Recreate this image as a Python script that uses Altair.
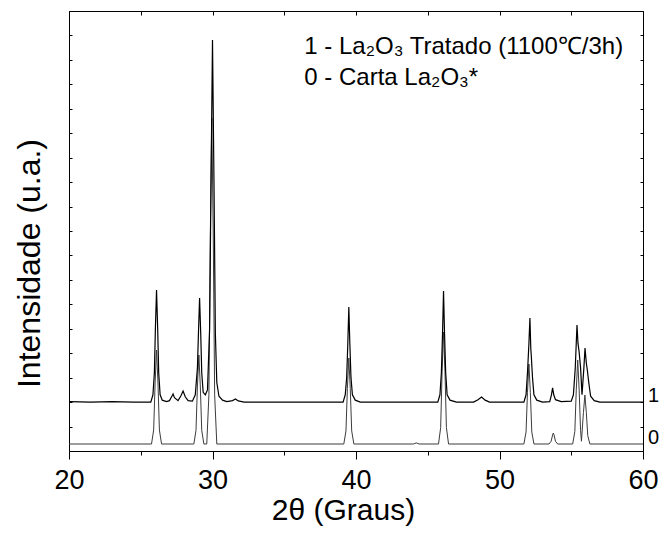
import altair as alt
import pandas as pd

# ---- data (2theta in degrees, intensity in a.u.) ----
# Curve 0 - Carta La2O3* (reference pattern)
carta_2theta = [20.0, 25.75, 25.9, 26.0, 26.1, 26.2, 26.3, 26.45,
                28.7, 28.85, 28.95, 29.05, 29.15, 29.25, 29.4,
                29.6, 29.75, 29.85, 29.95, 30.05, 30.15, 30.3,
                39.15, 39.3, 39.4, 39.5, 39.6, 39.7, 39.85,
                44.0, 44.2, 44.4,
                45.75, 45.9, 46.0, 46.1, 46.2, 46.3, 46.45,
                51.7, 51.85, 51.95, 52.05, 52.15, 52.25, 52.4,
                53.45, 53.6, 53.7, 53.75, 53.8, 53.9, 54.05,
                55.1, 55.25, 55.35, 55.45, 55.55, 55.65, 55.71,
                55.85, 55.95, 56.05, 56.15, 56.3, 60.0]
carta_int = [143, 143, 430, 1390, 2065, 1390, 430, 143,
             143, 420, 1330, 1963, 1330, 420, 143,
             143, 1150, 4480, 6810, 4480, 1150, 143,
             143, 410, 1280, 1902, 1280, 410, 143,
             143, 165, 143,
             143, 480, 1630, 2434, 1630, 480, 143,
             143, 390, 1200, 1779, 1200, 390, 143,
             143, 200, 330, 368, 330, 200, 143,
             143, 400, 1250, 1861, 1250, 420, 200,
             790, 1145, 790, 313, 143, 143]

# Curve 1 - La2O3 Tratado (1100 C/3h)
trat_2theta = [20.0, 21.5, 23.0, 24.5, 25.7, 25.85, 25.95, 26.02, 26.1, 26.18, 26.25, 26.35,
               26.5, 26.8, 27.0, 27.15, 27.25, 27.35, 27.6, 27.8, 27.95, 28.1, 28.3,
               28.6, 28.8, 28.95, 29.02, 29.1, 29.18, 29.25, 29.35, 29.5,
               29.65, 29.8, 29.9, 30.0, 30.1, 30.2, 30.3, 30.45, 30.7, 31.0,
               31.4, 31.6, 31.8, 32.2, 34.0, 36.0, 38.0,
               39.1, 39.25, 39.35, 39.43, 39.5, 39.57, 39.65, 39.75, 39.95, 40.3,
               42.0, 44.0, 45.7, 45.85, 45.95, 46.03, 46.1, 46.17, 46.25, 46.35, 46.55, 47.0,
               48.2, 48.5, 48.75, 49.0, 49.3, 50.5,
               51.7, 51.85, 51.95, 52.05, 52.12, 52.18, 52.22, 52.3, 52.4, 52.6, 53.0,
               53.5, 53.62, 53.7, 53.78, 53.9, 54.3, 55.0,
               55.15, 55.28, 55.4, 55.47, 55.55, 55.65, 55.75,
               55.88, 55.96, 56.05, 56.12, 56.22, 56.35, 56.6, 57.0, 58.5, 60.0]
trat_int = [1010, 1000, 1010, 1000, 1000, 1150, 1600, 2500, 3293, 2500, 1600, 1150,
            1040, 1010, 1030, 1110, 1165, 1090, 1030, 1130, 1227, 1110, 1030,
            1020, 1150, 1700, 2400, 3130, 2400, 1600, 1200, 1150,
            1250, 2500, 5600, 8405, 5600, 2400, 1400, 1120, 1040, 1010,
            1030, 1064, 1025, 1000, 1000, 1000, 1000,
            1000, 1150, 1500, 2200, 2945, 2200, 1500, 1150, 1040, 1000,
            1000, 1000, 1000, 1150, 1600, 2400, 3272, 2400, 1600, 1150, 1040, 1000,
            1000, 1050, 1104, 1040, 1000, 1000,
            1000, 1150, 1600, 2200, 2720, 2100, 1923, 1500, 1150, 1040, 1000,
            1010, 1150, 1290, 1150, 1050, 1010, 1020,
            1150, 1700, 2577, 2200, 2025, 1700, 1150,
            1700, 2107, 1800, 1657, 1400, 1120, 1030, 1000, 1000, 1000]

# curve labels at the right border
curve_labels = ["1", "0"]
curve_label_x = [60, 60]
curve_label_y = [1000, 143]

# legend-like annotation
legend_lines = ["1 - La\u2082O\u2083 Tratado (1100\u2103/3h)", "0 - Carta La\u2082O\u2083*"]
legend_x = [36.4, 36.4]
legend_y = [8262, 7628]

y_ticks = list(range(0, 9001, 500))

df0 = pd.DataFrame({"t": carta_2theta, "i": carta_int})
df1 = pd.DataFrame({"t": trat_2theta, "i": trat_int})
dfl = pd.DataFrame({"t": curve_label_x, "i": curve_label_y, "s": curve_labels})
dfg = pd.DataFrame({"t": legend_x, "i": legend_y, "s": legend_lines})

FONT = "Liberation Sans"
W, H = 574, 440
xscale = alt.Scale(domain=[20, 60], nice=False, zero=False)
yscale = alt.Scale(domain=[0, 9000], nice=False, zero=False)

ax_bottom = alt.Axis(orient="bottom", values=[20, 30, 40, 50, 60], tickSize=8,
                     tickColor="black", domainColor="black", grid=False,
                     labelFont=FONT, labelFontSize=27, labelColor="black",
                     labelPadding=8, labelFlush=False, labelOverlap=False,
                     title="2\u03b8 (Graus)", titleFont=FONT, titleFontSize=30,
                     titleFontWeight="normal", titleColor="black",
                     titleBaseline="alphabetic", titleY=68, titleX=274)
ax_bottom_minor = alt.Axis(orient="bottom", values=[25, 35, 45, 55], tickSize=4,
                           tickColor="black", domain=False, labels=False,
                           grid=False, title=None)
ax_top = alt.Axis(orient="bottom", offset=-H, values=list(range(20, 61, 5)),
                  tickSize=4, tickColor="black", domainColor="black",
                  labels=False, grid=False, title=None)
ax_left = alt.Axis(orient="left", ticks=False, labels=False, domainColor="black",
                   grid=False, title="Intensidade (u.a.)", titleFont=FONT,
                   titleFontSize=32, titleFontWeight="normal", titleColor="black",
                   titlePadding=23, titleY=252)
ax_left_ticks = alt.Axis(orient="right", offset=-W, values=y_ticks, tickSize=3,
                         tickColor="black", domain=False, labels=False,
                         grid=False, title=None)
ax_right = alt.Axis(orient="left", offset=-W, values=y_ticks, tickSize=3,
                    tickColor="black", domainColor="black", labels=False,
                    grid=False, title=None)

line0 = alt.Chart(df0).mark_line(color="#3c3c3c", strokeWidth=1).encode(
    x=alt.X("t:Q", scale=xscale, axis=ax_bottom),
    y=alt.Y("i:Q", scale=yscale, axis=ax_left),
)
line1 = alt.Chart(df1).mark_line(color="#000000", strokeWidth=1.2).encode(
    x=alt.X("t:Q", scale=xscale, axis=ax_bottom_minor),
    y=alt.Y("i:Q", scale=yscale, axis=ax_left_ticks),
)
labels = alt.Chart(dfl).mark_text(align="left", baseline="alphabetic", dx=5,
                                  font=FONT, fontSize=20, color="black").encode(
    x=alt.X("t:Q", scale=xscale, axis=ax_top),
    y=alt.Y("i:Q", scale=yscale, axis=ax_right),
    text="s:N",
)
legend = alt.Chart(dfg).mark_text(align="left", baseline="middle",
                                  font=FONT, fontSize=24, color="black").encode(
    x=alt.X("t:Q", scale=xscale, axis=None),
    y=alt.Y("i:Q", scale=yscale, axis=None),
    text="s:N",
)

chart = alt.layer(line0, line1, labels, legend).resolve_axis(
    x="independent", y="independent"
).properties(
    width=W, height=H,
    autosize=alt.AutoSizeParams(type="none"),
    padding={"left": 61, "top": 3, "right": 16, "bottom": 75},
).configure_view(stroke=None)

chart.save("out.html", embed_options={"renderer": "svg", "actions": False})
